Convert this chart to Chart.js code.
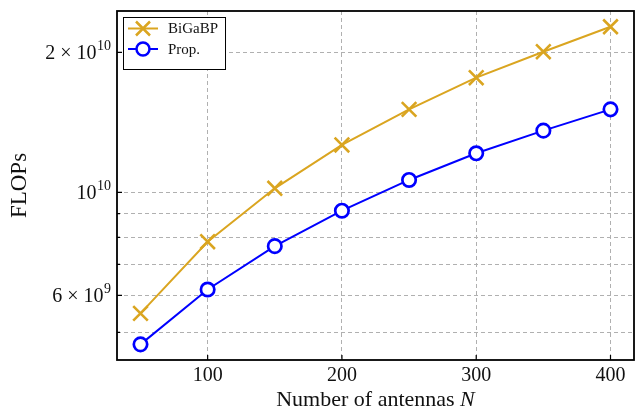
<!DOCTYPE html>
<html><head><meta charset="utf-8">
<script src="https://cdn.jsdelivr.net/npm/chart.js@4/dist/chart.umd.min.js"></script>
<style>html,body{margin:0;padding:0;background:#fff;}</style>
</head><body>
<canvas id="c" width="641" height="412"></canvas>
<script>
const antennas = [50, 100, 150, 200, 250, 300, 350, 400];
const bigabpFlops = [5.49e9, 7.83e9, 1.02e10, 1.264e10, 1.508e10, 1.764e10, 2.006e10, 2.27e10];
const propFlops = [4.71e9, 6.18e9, 7.66e9, 9.13e9, 1.063e10, 1.213e10, 1.357e10, 1.508e10];
const seriesNames = ['BiGaBP', 'Prop.'];
const xTickValues = [100, 200, 300, 400];
const yGridValues = [5e9, 6e9, 7e9, 8e9, 9e9, 1e10, 2e10];
const yTickValues = [6e9, 1e10, 2e10];
const yTickBase = ['6 × 10', '10', '2 × 10'];
const yTickExp = ['9', '10', '10'];
const xTitleMain = 'Number of antennas ';
const xTitleVar = 'N';
const yTitle = 'FLOPs';

const ORANGE = '#DAA520', BLUE = '#0000FF';
const SERIF = '"Liberation Serif", "DejaVu Serif", serif';

function toXY(ys) { return antennas.map((x, i) => ({x: x, y: ys[i]})); }

const frame = {
  id: 'frame',
  afterDraw(chart) {
    const ctx = chart.ctx, a = chart.chartArea;
    const xs = chart.scales.x, ys = chart.scales.y;
    ctx.save();
    // inward tick marks
    ctx.strokeStyle = '#000';
    ctx.lineWidth = 1.2;
    ctx.beginPath();
    xTickValues.forEach(v => {
      const px = xs.getPixelForValue(v);
      ctx.moveTo(px, a.bottom); ctx.lineTo(px, a.bottom - 5);
    });
    yGridValues.forEach(v => {
      const py = ys.getPixelForValue(v);
      const len = yTickValues.includes(v) ? 5 : 3;
      ctx.moveTo(a.left, py); ctx.lineTo(a.left + len, py);
    });
    ctx.stroke();
    // box
    ctx.lineWidth = 1.8;
    ctx.strokeRect(a.left, a.top, a.right - a.left, a.bottom - a.top);

    // y tick labels with superscripts
    ctx.fillStyle = '#111';
    ctx.textBaseline = 'alphabetic';
    ctx.textAlign = 'left';
    yTickValues.forEach((v, i) => {
      const py = ys.getPixelForValue(v);
      ctx.font = '14px ' + SERIF;
      const ew = ctx.measureText(yTickExp[i]).width;
      ctx.font = '20px ' + SERIF;
      const bw = ctx.measureText(yTickBase[i]).width;
      const right = a.left - 6;
      ctx.fillText(yTickBase[i], right - ew - bw - 0.5, py + 7);
      ctx.font = '14px ' + SERIF;
      ctx.fillText(yTickExp[i], right - ew, py - 2.5);
    });

    // x title with italic variable
    ctx.font = '22px ' + SERIF;
    const mw = ctx.measureText(xTitleMain).width;
    ctx.font = 'italic 22px ' + SERIF;
    const nw = ctx.measureText(xTitleVar).width;
    const cx0 = (a.left + a.right) / 2 - (mw + nw) / 2;
    ctx.font = '22px ' + SERIF;
    ctx.fillText(xTitleMain, cx0, 406);
    ctx.font = 'italic 22px ' + SERIF;
    ctx.fillText(xTitleVar, cx0 + mw, 406);

    // legend
    const fontPx = 15;
    ctx.font = fontPx + 'px ' + SERIF;
    const ds = chart.data.datasets;
    const textW = Math.max(...ds.map(d => ctx.measureText(d.label).width));
    const bx = a.left + 6, by = a.top + 6;
    const lineLen = 30, pad = 5, gap = 10, rowH = 20.5;
    const bw = pad + lineLen + gap + textW + 7;
    const bh = 8 + rowH * ds.length + 3;
    ctx.fillStyle = '#fff';
    ctx.fillRect(bx, by, bw, bh);
    ctx.lineWidth = 1;
    ctx.strokeStyle = '#000';
    ctx.strokeRect(bx + 0.5, by + 0.5, bw, bh);
    ds.forEach((d, i) => {
      const cy = by + 11.5 + rowH * i;
      const x0 = bx + pad, x1 = x0 + lineLen, cx = (x0 + x1) / 2;
      ctx.strokeStyle = d.borderColor;
      ctx.lineWidth = 2;
      ctx.beginPath(); ctx.moveTo(x0, cy); ctx.lineTo(x1, cy); ctx.stroke();
      ctx.lineWidth = 2.5;
      if (d.pointStyle === 'crossRot') {
        const r = 7;
        ctx.beginPath();
        ctx.moveTo(cx - r, cy - r); ctx.lineTo(cx + r, cy + r);
        ctx.moveTo(cx - r, cy + r); ctx.lineTo(cx + r, cy - r);
        ctx.stroke();
      } else {
        ctx.beginPath(); ctx.arc(cx, cy, 6.5, 0, Math.PI * 2);
        ctx.fillStyle = '#fff'; ctx.fill(); ctx.stroke();
      }
      ctx.fillStyle = '#111';
      ctx.textBaseline = 'middle';
      ctx.textAlign = 'left';
      ctx.fillText(d.label, x1 + gap, cy + 1);
    });
    ctx.restore();
  }
};

new Chart(document.getElementById('c'), {
  type: 'line',
  data: {
    datasets: [
      {label: seriesNames[0], data: toXY(bigabpFlops), borderColor: ORANGE, backgroundColor: ORANGE,
       borderWidth: 2, pointStyle: 'crossRot', pointRadius: 10.3, pointBorderWidth: 2.6, pointHoverRadius: 10.3},
      {label: seriesNames[1], data: toXY(propFlops), borderColor: BLUE, backgroundColor: '#fff',
       borderWidth: 2, pointStyle: 'circle', pointRadius: 6.7, pointBorderWidth: 2.7, pointHoverRadius: 6.7}
    ]
  },
  options: {
    responsive: false,
    animation: false,
    devicePixelRatio: 1,
    layout: {autoPadding: false, padding: {top: 11, right: 7, left: 0, bottom: 0}},
    plugins: {legend: {display: false}, tooltip: {enabled: false}},
    scales: {
      x: {
        type: 'linear', min: 32.5, max: 417.5,
        afterBuildTicks: s => { s.ticks = xTickValues.map(v => ({value: v})); },
        afterFit: s => { s.height = 52; s.paddingLeft = 0; s.paddingRight = 0; },
        ticks: {font: {family: SERIF, size: 20}, color: '#111', padding: 4,
                callback: v => String(v), maxRotation: 0},
        grid: {color: '#b0b0b0', lineWidth: 1, drawTicks: false},
        border: {display: false, dash: [4, 3]},
        title: {display: false}
      },
      y: {
        type: 'logarithmic', min: 4.359e9, max: 2.454e10,
        afterBuildTicks: s => { s.ticks = yGridValues.map(v => ({value: v})); },
        afterFit: s => { s.width = 117; s.paddingTop = 0; s.paddingBottom = 0; },
        ticks: {display: false},
        grid: {color: '#b0b0b0', lineWidth: 1, drawTicks: false},
        border: {display: false, dash: [4, 3]},
        title: {display: true, text: yTitle, font: {family: SERIF, size: 23},
                color: '#111', padding: {top: 6, bottom: 0}}
      }
    }
  },
  plugins: [frame]
});
</script>
</body></html>
